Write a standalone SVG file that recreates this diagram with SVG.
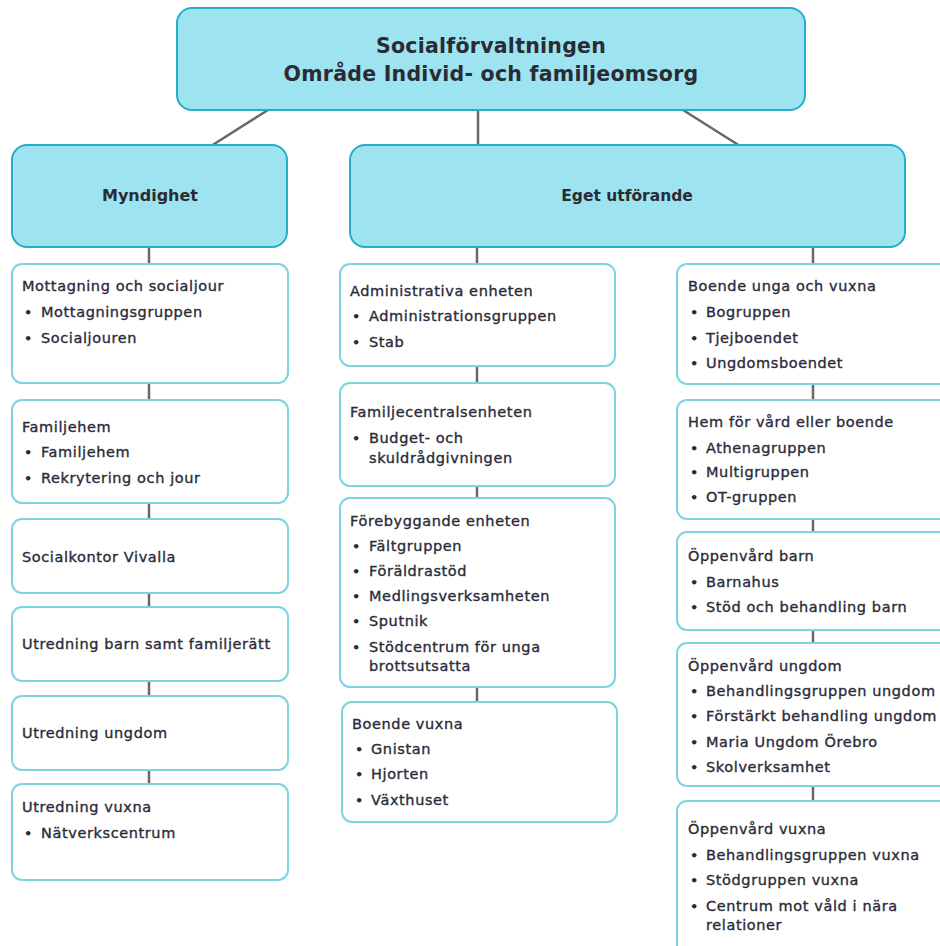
<svg xmlns="http://www.w3.org/2000/svg" width="940" height="946" viewBox="0 0 940 946">
<style>
.hdr{fill:#9de3f0;stroke:#27adc6;stroke-width:2}
.box{fill:#ffffff;stroke:#7ed3e3;stroke-width:2}
.ht{font-family:"DejaVu Sans",sans-serif;font-weight:bold;fill:#2b2b35;text-anchor:middle}
.t{font-family:"DejaVu Sans",sans-serif;font-size:14.5px;letter-spacing:0.6px;fill:#2b2b3a;stroke:#2b2b3a;stroke-width:0.35}
.b{font-family:"DejaVu Sans",sans-serif;font-size:13px;font-weight:bold;fill:#2b2b3a}
.conn{stroke:#6e6663;stroke-width:2.5;fill:none}
</style>
<rect width="940" height="946" fill="#ffffff"/>
<g id="connectors">
<line class="conn" x1="268" y1="110" x2="211" y2="146"/>
<line class="conn" x1="478" y1="110" x2="478" y2="146"/>
<line class="conn" x1="683" y1="110" x2="740" y2="146"/>
<line class="conn" x1="149" y1="247" x2="149" y2="264"/>
<line class="conn" x1="149" y1="383" x2="149" y2="400"/>
<line class="conn" x1="149" y1="503" x2="149" y2="519"/>
<line class="conn" x1="149" y1="593" x2="149" y2="607"/>
<line class="conn" x1="149" y1="681" x2="149" y2="696"/>
<line class="conn" x1="149" y1="770" x2="149" y2="784"/>
<line class="conn" x1="477" y1="247" x2="477" y2="264"/>
<line class="conn" x1="477" y1="366" x2="477" y2="383"/>
<line class="conn" x1="477" y1="486" x2="477" y2="498"/>
<line class="conn" x1="477" y1="687" x2="477" y2="702"/>
<line class="conn" x1="813" y1="247" x2="813" y2="264"/>
<line class="conn" x1="813" y1="384" x2="813" y2="400"/>
<line class="conn" x1="813" y1="519" x2="813" y2="532"/>
<line class="conn" x1="813" y1="630" x2="813" y2="643"/>
<line class="conn" x1="813" y1="786" x2="813" y2="801"/>
</g>
<g id="root">
<rect class="hdr" x="177" y="8" width="628" height="102" rx="15"/>
<text class="ht" x="491" y="53" font-size="20.5" letter-spacing="0.25">Socialförvaltningen</text>
<text class="ht" x="491" y="81" font-size="20.5" letter-spacing="0.25">Område Individ- och familjeomsorg</text>
</g>
<g id="myndighet">
<rect class="hdr" x="12" y="145" width="275" height="102" rx="15"/>
<text class="ht" x="150" y="201" font-size="16">Myndighet</text>
</g>
<g id="eget">
<rect class="hdr" x="350" y="145" width="555" height="102" rx="15"/>
<text class="ht" x="627" y="201" font-size="15.5">Eget utförande</text>
</g>
<g id="mottagning">
<rect class="box" x="12" y="264" width="276" height="119" rx="10"/>
<text class="t" x="22" y="291">Mottagning och socialjour</text>
<text class="b" x="24" y="317">•</text><text class="t" x="41" y="317">Mottagningsgruppen</text>
<text class="b" x="24" y="343">•</text><text class="t" x="41" y="343">Socialjouren</text>
</g>
<g id="familjehem">
<rect class="box" x="12" y="400" width="276" height="103" rx="10"/>
<text class="t" x="22" y="432">Familjehem</text>
<text class="b" x="24" y="457">•</text><text class="t" x="41" y="457">Familjehem</text>
<text class="b" x="24" y="483">•</text><text class="t" x="41" y="483">Rekrytering och jour</text>
</g>
<g id="vivalla">
<rect class="box" x="12" y="519" width="276" height="74" rx="10"/>
<text class="t" x="22" y="562">Socialkontor Vivalla</text>
</g>
<g id="utredning-barn">
<rect class="box" x="12" y="607" width="276" height="74" rx="10"/>
<text class="t" x="22" y="649">Utredning barn samt familjerätt</text>
</g>
<g id="utredning-ungdom">
<rect class="box" x="12" y="696" width="276" height="74" rx="10"/>
<text class="t" x="22" y="738">Utredning ungdom</text>
</g>
<g id="utredning-vuxna">
<rect class="box" x="12" y="784" width="276" height="96" rx="10"/>
<text class="t" x="22" y="812">Utredning vuxna</text>
<text class="b" x="24" y="838">•</text><text class="t" x="41" y="838">Nätverkscentrum</text>
</g>
<g id="administrativa">
<rect class="box" x="340" y="264" width="275" height="102" rx="10"/>
<text class="t" x="350" y="296">Administrativa enheten</text>
<text class="b" x="352" y="321">•</text><text class="t" x="369" y="321">Administrationsgruppen</text>
<text class="b" x="352" y="347">•</text><text class="t" x="369" y="347">Stab</text>
</g>
<g id="familjecentral">
<rect class="box" x="340" y="383" width="275" height="103" rx="10"/>
<text class="t" x="350" y="417">Familjecentralsenheten</text>
<text class="b" x="352" y="443">•</text><text class="t" x="369" y="443">Budget- och</text>
<text class="t" x="369" y="463">skuldrådgivningen</text>
</g>
<g id="forebyggande">
<rect class="box" x="340" y="498" width="275" height="189" rx="10"/>
<text class="t" x="350" y="526">Förebyggande enheten</text>
<text class="b" x="352" y="551">•</text><text class="t" x="369" y="551">Fältgruppen</text>
<text class="b" x="352" y="576">•</text><text class="t" x="369" y="576">Föräldrastöd</text>
<text class="b" x="352" y="601">•</text><text class="t" x="369" y="601">Medlingsverksamheten</text>
<text class="b" x="352" y="626">•</text><text class="t" x="369" y="626">Sputnik</text>
<text class="b" x="352" y="652">•</text><text class="t" x="369" y="652">Stödcentrum för unga</text>
<text class="t" x="369" y="671">brottsutsatta</text>
</g>
<g id="boende-vuxna">
<rect class="box" x="342" y="702" width="275" height="120" rx="10"/>
<text class="t" x="352" y="729">Boende vuxna</text>
<text class="b" x="355" y="754">•</text><text class="t" x="371" y="754">Gnistan</text>
<text class="b" x="355" y="779">•</text><text class="t" x="371" y="779">Hjorten</text>
<text class="b" x="355" y="805">•</text><text class="t" x="371" y="805">Växthuset</text>
</g>
<g id="boende-unga">
<rect class="box" x="677" y="264" width="285" height="120" rx="10"/>
<text class="t" x="688" y="291">Boende unga och vuxna</text>
<text class="b" x="690" y="317">•</text><text class="t" x="706" y="317">Bogruppen</text>
<text class="b" x="690" y="343">•</text><text class="t" x="706" y="343">Tjejboendet</text>
<text class="b" x="690" y="368">•</text><text class="t" x="706" y="368">Ungdomsboendet</text>
</g>
<g id="hem-vard">
<rect class="box" x="677" y="400" width="285" height="119" rx="10"/>
<text class="t" x="688" y="427">Hem för vård eller boende</text>
<text class="b" x="690" y="453">•</text><text class="t" x="706" y="453">Athenagruppen</text>
<text class="b" x="690" y="477">•</text><text class="t" x="706" y="477">Multigruppen</text>
<text class="b" x="690" y="502">•</text><text class="t" x="706" y="502">OT-gruppen</text>
</g>
<g id="oppenvard-barn">
<rect class="box" x="677" y="532" width="285" height="98" rx="10"/>
<text class="t" x="688" y="561">Öppenvård barn</text>
<text class="b" x="690" y="587">•</text><text class="t" x="706" y="587">Barnahus</text>
<text class="b" x="690" y="612">•</text><text class="t" x="706" y="612">Stöd och behandling barn</text>
</g>
<g id="oppenvard-ungdom">
<rect class="box" x="677" y="643" width="285" height="143" rx="10"/>
<text class="t" x="688" y="671">Öppenvård ungdom</text>
<text class="b" x="690" y="696">•</text><text class="t" x="706" y="696">Behandlingsgruppen ungdom</text>
<text class="b" x="690" y="721">•</text><text class="t" x="706" y="721">Förstärkt behandling ungdom</text>
<text class="b" x="690" y="747">•</text><text class="t" x="706" y="747">Maria Ungdom Örebro</text>
<text class="b" x="690" y="772">•</text><text class="t" x="706" y="772">Skolverksamhet</text>
</g>
<g id="oppenvard-vuxna">
<rect class="box" x="677" y="801" width="285" height="170" rx="10"/>
<text class="t" x="688" y="834">Öppenvård vuxna</text>
<text class="b" x="690" y="860">•</text><text class="t" x="706" y="860">Behandlingsgruppen vuxna</text>
<text class="b" x="690" y="885">•</text><text class="t" x="706" y="885">Stödgruppen vuxna</text>
<text class="b" x="690" y="911">•</text><text class="t" x="706" y="911">Centrum mot våld i nära</text>
<text class="t" x="706" y="930">relationer</text>
</g>
</svg>
